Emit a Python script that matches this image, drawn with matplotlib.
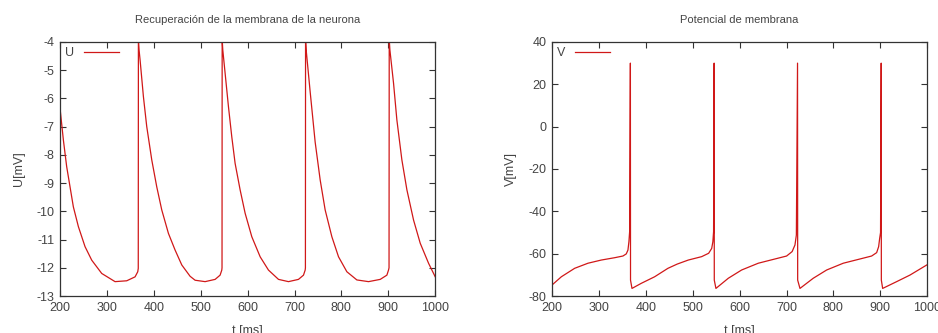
import matplotlib
matplotlib.use("Agg")
import matplotlib.pyplot as plt

# valores (neurona de Izhikevich)
t_u = [200, 207.1, 214.2, 221.3, 228.4, 239.1, 253.3, 267.6, 288.9, 317.3, 342.2, 360, 365.7, 366.8,
       367.1, 368.5, 370.7, 377.8, 384.9, 395.6, 406.2, 416.9, 431.1, 445.3, 459.6, 477.3, 488,
       509.3, 530.7, 541.3, 544.9, 545.4,
       545.7, 547, 552, 559.1, 566.2, 573.3, 584, 594.7, 608.9, 626.7, 644.4, 665.8, 687.1,
       708.4, 719.1, 722.7, 723.2,
       723.5, 724.8, 733.3, 744, 754.7, 765.3, 779.6, 793.8, 811.6, 832.9, 857.8, 882.7,
       896.9, 900.4, 901.5,
       901.9, 903.3, 911.1, 918.2, 928.9, 939.6, 953.8, 968, 985.8, 1000]
u_vals = [-6.35, -7.47, -8.42, -9.13, -9.84, -10.54, -11.25, -11.73, -12.20, -12.49, -12.46, -12.32, -12.14, -12.02,
          -3.9, -4.28, -4.64, -5.94, -7.00, -8.18, -9.13, -9.95, -10.78, -11.37, -11.90, -12.30, -12.44,
          -12.49, -12.41, -12.26, -12.08, -12.0,
          -3.9, -4.28, -5.11, -6.29, -7.36, -8.30, -9.24, -10.07, -10.90, -11.61, -12.08, -12.41, -12.49,
          -12.41, -12.26, -12.08, -12.0,
          -3.9, -4.28, -5.76, -7.55, -8.89, -9.95, -10.90, -11.61, -12.14, -12.43, -12.49, -12.41,
          -12.26, -12.08, -12.0,
          -3.9, -4.28, -5.46, -6.76, -8.18, -9.24, -10.31, -11.13, -11.84, -12.32]

t_v = [200, 219.9, 248.3, 276.7, 305.1, 333.5, 351.2, 358.3, 361.9, 364, 365.5,
       367.1, 367.4, 370.5, 390.3, 418.8, 447.2, 467, 490.6, 519, 534, 540.5, 543, 544.5,
       545.7, 546, 549.5, 575.9, 604.3, 639.8, 675.3, 700.2, 712, 718, 721,
       723.5, 723.8, 728.7, 757, 785.6, 821, 856.6, 881.5, 892.2, 896.4, 898.6, 900.5,
       901.9, 902.2, 905, 934.8, 963.2, 1000]
v_vals = [-74.8, -70.9, -66.9, -64.5, -63.0, -61.9, -61.1, -60.1, -58.3, -54.3, -49.6,
          30, -72.5, -76.4, -74.0, -70.9, -66.9, -64.9, -63.0, -61.4, -59.8, -57.5, -54.3, -49.6,
          30, -72.5, -76.4, -71.6, -67.7, -64.5, -62.5, -61.1, -59.0, -55.9, -51.2,
          30, -72.5, -76.4, -71.6, -67.7, -64.5, -62.5, -61.1, -59.5, -56.7, -52.8, -50.0,
          30, -72.5, -76.4, -73.2, -70.1, -65.2]

x_ticks = [200, 300, 400, 500, 600, 700, 800, 900, 1000]
u_ticks = [-13, -12, -11, -10, -9, -8, -7, -6, -5, -4]
v_ticks = [-80, -60, -40, -20, 0, 20, 40]

rojo = '#d01818'
gris = '#444444'
plt.rcParams['font.family'] = ['Liberation Sans', 'DejaVu Sans']
plt.rcParams['font.size'] = 8
plt.rcParams['axes.unicode_minus'] = False


def estilo(ax, yticks, titulo, ylab):
    ax.set_xlim(200, 1000)
    ax.set_ylim(yticks[0], yticks[-1])
    ax.set_xticks(x_ticks)
    ax.set_yticks(yticks)
    ax.tick_params(direction='in', top=True, right=True, length=4, width=0.8,
                   colors='#333333', labelcolor=gris, labelsize=9, pad=4)
    for s in ax.spines.values():
        s.set_color('#333333')
        s.set_linewidth(0.9)
    ax.set_title(titulo, color=gris, fontsize=8, pad=14)
    ax.set_xlabel('t [ms]', color=gris, fontsize=9, labelpad=8)
    ax.set_ylabel(ylab, color=gris, fontsize=9, labelpad=8)
    ax.legend(loc='upper left', frameon=False, markerfirst=False, handlelength=2.8,
              borderaxespad=0.2, borderpad=0.2, labelcolor=gris, fontsize=9)


fig = plt.figure(figsize=(9.38, 3.33), dpi=100)
ax1 = fig.add_axes([0.064, 0.111, 0.4, 0.763])
ax2 = fig.add_axes([0.5885, 0.111, 0.4, 0.763])

ax1.plot(t_u, u_vals, color=rojo, lw=0.9, label='U')
estilo(ax1, u_ticks, 'Recuperación de la membrana de la neurona', 'U[mV]')

ax2.plot(t_v, v_vals, color=rojo, lw=0.9, label='V')
estilo(ax2, v_ticks, 'Potencial de membrana', 'V[mV]')

fig.savefig('out.png', dpi=100)
